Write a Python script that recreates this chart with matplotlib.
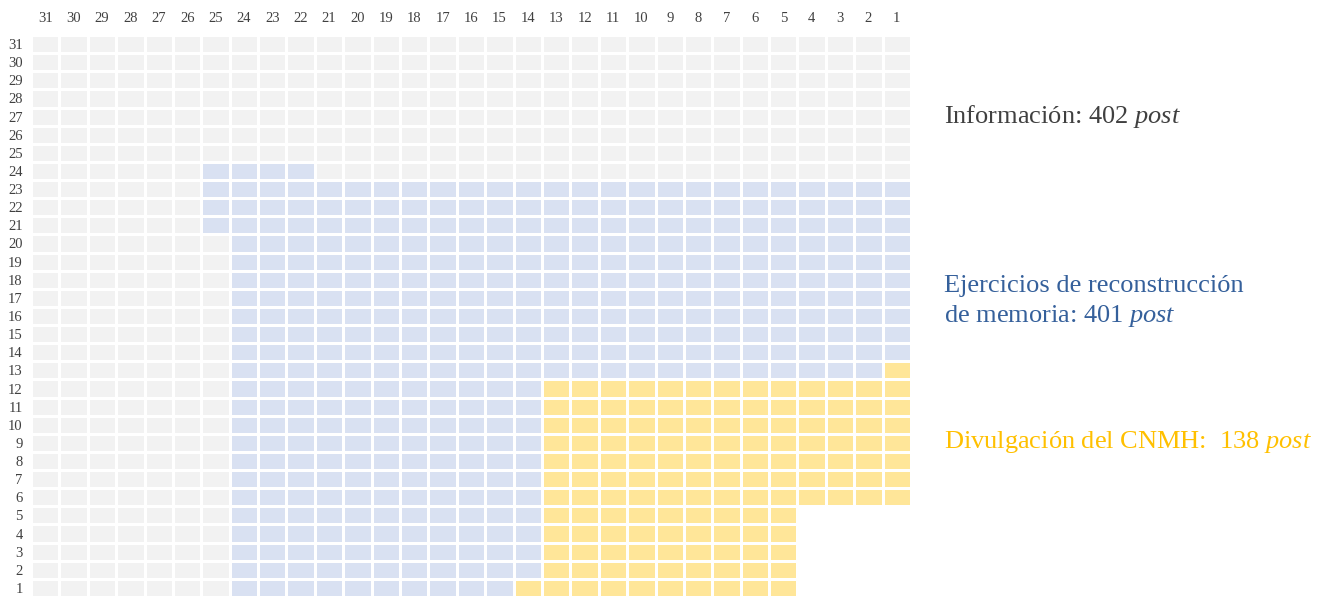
import numpy as np
import matplotlib.pyplot as plt
from matplotlib.colors import ListedColormap

plt.rcParams['font.family'] = ['Liberation Serif', 'DejaVu Serif']
plt.rcParams['mathtext.fontset'] = 'custom'
plt.rcParams['mathtext.rm'] = 'Liberation Serif'
plt.rcParams['mathtext.it'] = 'Liberation Serif:italic'

# data: posts per category (outer -> inner), grid is 31 x 31
categories = ['Información', 'Ejercicios de reconstrucción de memoria', 'Divulgación del CNMH']
posts = [402, 401, 138]
n_side = 31
col_labels = list(range(n_side, 0, -1))
row_labels = list(range(1, n_side + 1))

cell_colors = ['#F2F2F2', '#D9E1F2', '#FFE699']
text_colors = ['#404040', '#35609B', '#FFC000']

# layout of the nested blocks, counted from the bottom right corner
# (rows, cols, extra cells on the top row, how the extras hang on)
block_shape = {
    'empty': (5, 4, 0, None),
    2: (12, 13, 1, 'ends'),
    1: (23, 24, 4, 'corner'),
}


def block_cells(total, rows, cols, n_top, mode):
    cells = [(r, c) for r in range(rows) for c in range(cols)]
    n_left = total - rows * cols - n_top
    if mode == 'corner':
        cells += [(rows, cols - k) for k in range(n_top)]
        cells += [(rows - 1 - k, cols) for k in range(n_left)]
    elif mode == 'ends':
        cells += [(rows, k) for k in range(n_top)]
        cells += [(k, cols) for k in range(n_left)]
    return cells


# grid[r, c]: r = row number - 1 (from bottom), c = column number - 1 (from right)
grid = np.zeros((n_side, n_side))
n_empty = n_side * n_side - sum(posts)
for key in [1, 2, 'empty']:
    if key == 'empty':
        total, code = n_empty, np.nan
    else:
        total, code = n_empty + sum(posts[key:]), key
    rows, cols, n_top, mode = block_shape[key]
    for r, c in block_cells(total, rows, cols, n_top, mode):
        grid[r, c] = code

Z = np.ma.masked_invalid(grid[:, ::-1])

fig = plt.figure(figsize=(13.17, 5.97), dpi=100)
ax = fig.add_axes([31 / 1317, 0, 880 / 1317, 562 / 597])
ax.pcolormesh(np.arange(n_side + 1), np.arange(n_side + 1), Z,
              cmap=ListedColormap(cell_colors), vmin=-0.5, vmax=2.5,
              edgecolor='white', linewidth=1.0)
ax.set_xlim(0, n_side)
ax.set_ylim(0, n_side)
ax.set_xticks(np.arange(n_side) + 0.5)
ax.set_xticklabels(col_labels)
ax.set_yticks(np.arange(n_side) + 0.5)
ax.set_yticklabels(row_labels)
ax.xaxis.tick_top()
ax.tick_params(length=0, labelsize=10.5, labelcolor='#404040')
ax.tick_params(axis='x', pad=7)
ax.tick_params(axis='y', pad=6)
for s in ax.spines.values():
    s.set_visible(False)

# labels on the right
x0 = 944 / 1317
fs = 19
fig.text(x0, 1 - 123 / 597, f'{categories[0]}: {posts[0]} $\\mathit{{post}}$',
         color=text_colors[0], fontsize=fs, va='baseline')
fig.text(x0, 1 - 292 / 597, 'Ejercicios de reconstrucción',
         color=text_colors[1], fontsize=fs, va='baseline')
fig.text(x0, 1 - 322 / 597, f'de memoria: {posts[1]} $\\mathit{{post}}$',
         color=text_colors[1], fontsize=fs, va='baseline')
fig.text(x0, 1 - 448 / 597, f'{categories[2]}:  {posts[2]} $\\mathit{{post}}$',
         color=text_colors[2], fontsize=fs, va='baseline')

fig.savefig('out.png', dpi=100)
